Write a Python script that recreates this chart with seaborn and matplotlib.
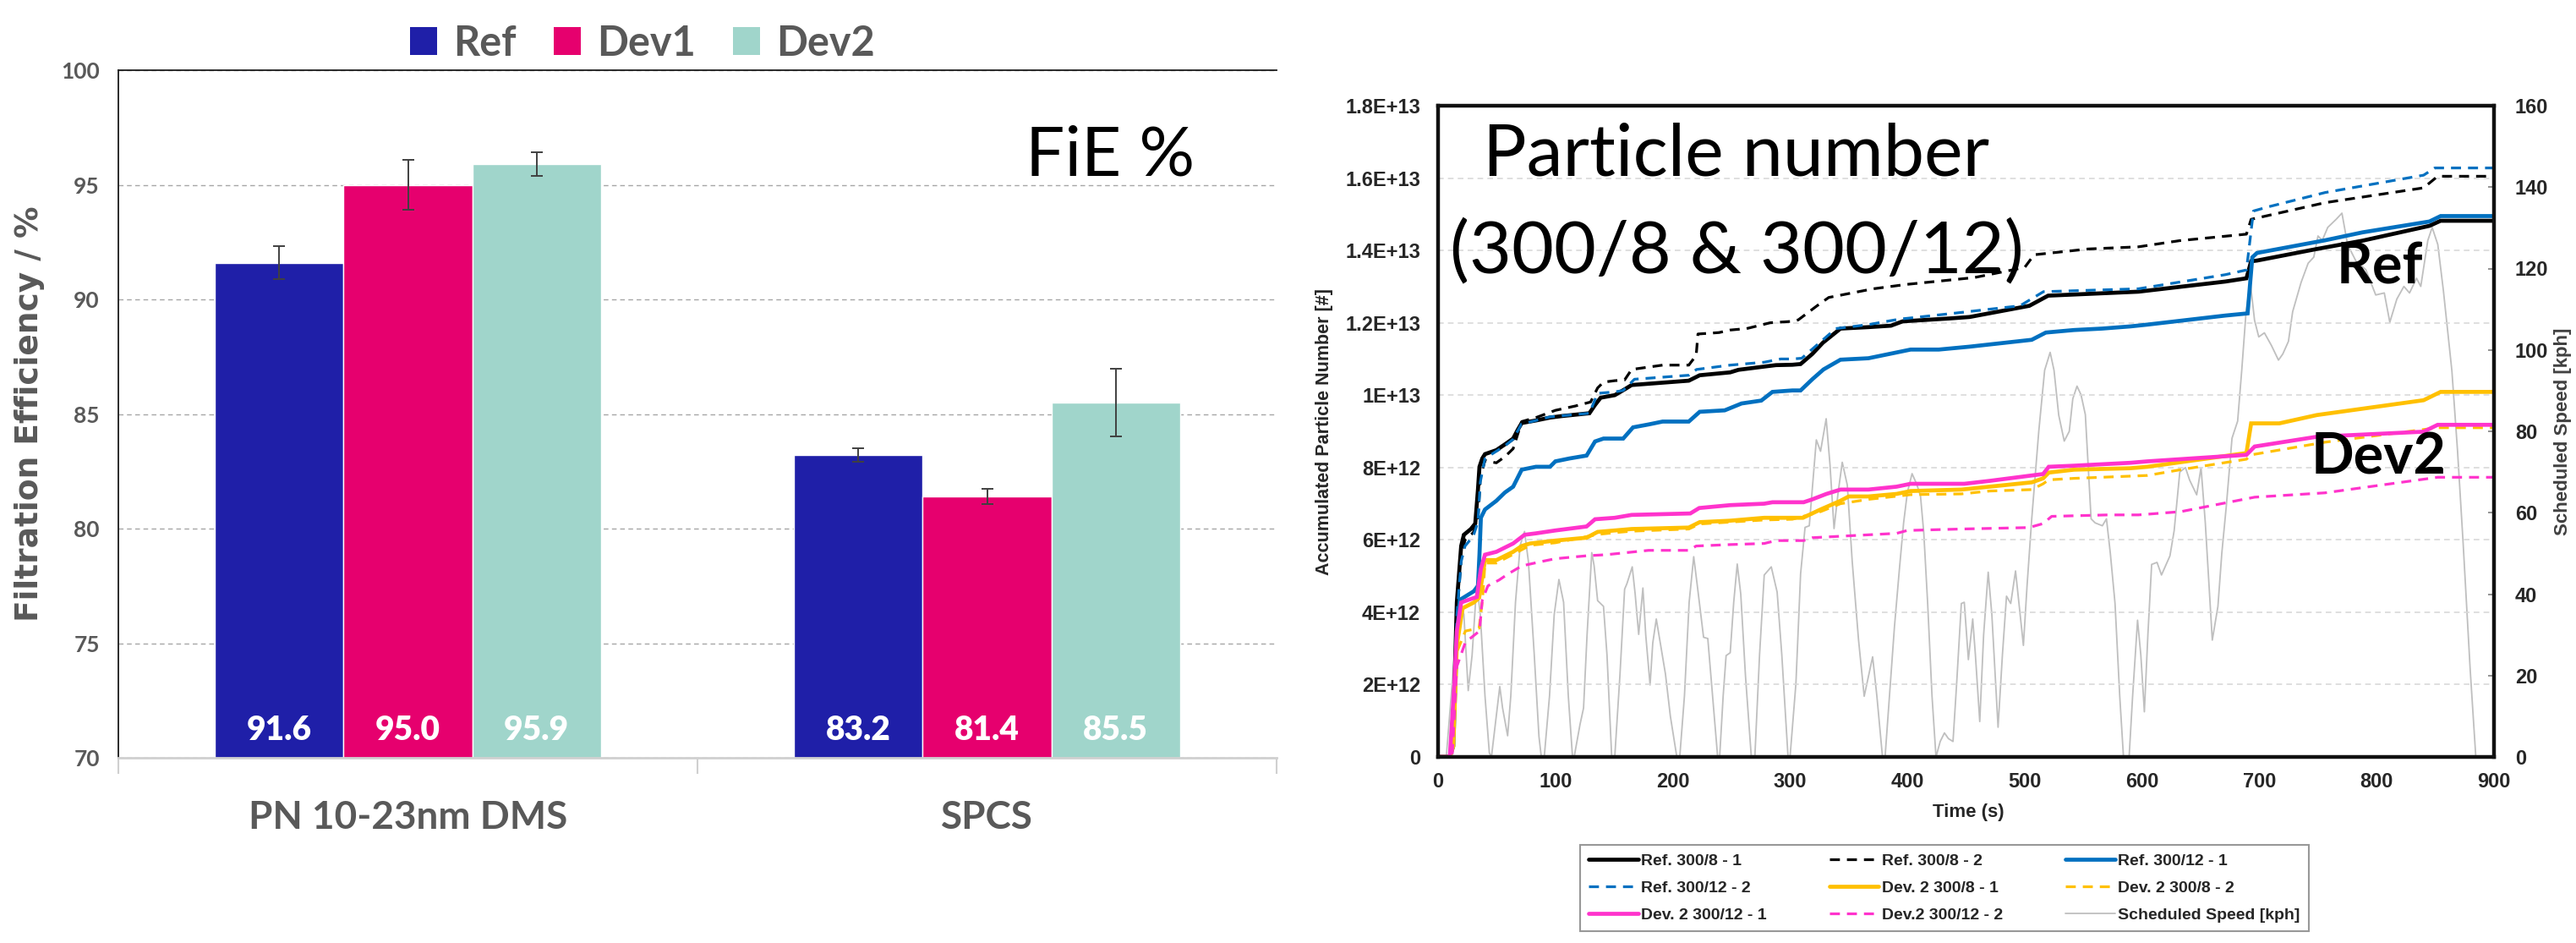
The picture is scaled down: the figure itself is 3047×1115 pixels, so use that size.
import numpy as np
import pandas as pd
import matplotlib
matplotlib.use("Agg")
import matplotlib.pyplot as plt
import seaborn as sns
from matplotlib.patches import Patch
from matplotlib.ticker import FixedLocator

# ---------------- data : left chart ----------------
categories = ["PN 10-23nm DMS", "SPCS"]
series = ["Ref", "Dev1", "Dev2"]
fie_ref = [91.6, 83.2]
fie_dev1 = [95.0, 81.4]
fie_dev2 = [95.9, 85.5]
err_ref = [0.72, 0.29]
err_dev1 = [1.08, 0.32]
err_dev2 = [0.53, 1.48]
fie_yticks = [70, 75, 80, 85, 90, 95, 100]

# ---------------- data : right chart ----------------
t_ref8_1 = [0, 10, 12.5, 16, 19.7, 22, 28, 31.7, 34, 35.3, 37.7, 40, 49.7, 57, 64, 67.7, 71.3, 83.4, 95.4, 105,
            129, 133.8, 138.6, 150.6, 159, 165, 213.7, 223, 249, 256, 278, 288, 302, 309, 319, 328, 343, 366.8,
            386, 396, 436, 453, 504, 520, 597, 671, 689, 693, 698, 749, 788, 845, 854.5, 900]
n_ref8_1 = [0, 0, 0.3, 4.27, 5.83, 6.14, 6.3, 6.45, 7.39, 8.02, 8.25, 8.37, 8.48, 8.64, 8.8, 9.03, 9.23, 9.3, 9.38, 9.42,
            9.5, 9.73, 9.93, 10.0, 10.16, 10.28, 10.4, 10.55, 10.63, 10.7, 10.79, 10.83, 10.84, 10.86, 11.14, 11.45, 11.84, 11.88,
            11.92, 12.04, 12.12, 12.16, 12.47, 12.75, 12.86, 13.14, 13.23, 13.7, 13.72, 14.04, 14.27, 14.68, 14.82, 14.82]

t_ref8_2 = [0, 10, 13, 16, 20, 23, 30, 34, 36, 40, 42.5, 49.7, 57, 64, 67.7, 71.3, 83.4, 100, 117, 130,
            136, 141, 150.6, 159, 165, 191.4, 213.7, 220, 221.5, 239.5, 249, 263, 283, 302, 307, 323, 333, 371,
            399, 457, 500, 508, 554, 597, 632, 689, 693, 756, 840, 852, 900]
n_ref8_2 = [0, 0, 0.3, 3.9, 5.6, 6.0, 6.2, 6.6, 7.7, 8.2, 8.17, 8.13, 8.3, 8.52, 8.9, 9.27, 9.38, 9.58, 9.7, 9.81,
            10.2, 10.36, 10.4, 10.42, 10.71, 10.83, 10.83, 11.1, 11.69, 11.73, 11.8, 11.84, 12.0, 12.04, 12.08, 12.47, 12.7, 12.94,
            13.06, 13.25, 13.53, 13.88, 14.04, 14.1, 14.27, 14.45, 14.86, 15.32, 15.73, 16.05, 16.05]

t_ref12_1 = [0, 10, 13, 16, 18.5, 30.5, 34, 35.3, 36.5, 40, 49.7, 57, 64, 71.3, 83.4, 95.4, 100, 112, 126.6, 133.8,
             141, 157.8, 166.2, 179.4, 191.4, 213.7, 223, 244.3, 258.7, 275.5, 285, 302, 309, 319, 328.5, 343, 366.8,
             390.8, 402.8, 426.8, 453, 506, 518, 542, 566, 590, 604.6, 671, 690, 694, 698, 756, 788, 845, 854.5, 900]
n_ref12_1 = [0, 0, 0.3, 3.3, 4.34, 4.58, 4.73, 5.6, 6.61, 6.84, 7.08, 7.31, 7.47, 7.94, 8.02, 8.02, 8.17, 8.25, 8.33, 8.72,
             8.8, 8.8, 9.11, 9.19, 9.27, 9.27, 9.54, 9.58, 9.77, 9.85, 10.09, 10.13, 10.13, 10.44, 10.71, 10.98, 11.02,
             11.18, 11.26, 11.26, 11.34, 11.53, 11.73, 11.8, 11.84, 11.9, 11.95, 12.2, 12.26, 13.81, 13.93, 14.28, 14.5, 14.8, 14.95, 14.95]

t_ref12_2 = [0, 10, 13, 16, 19.7, 23, 30, 34, 36, 40, 49.7, 57, 64, 71, 83.4, 95.4, 129, 136, 150.6, 157.8,
             167.4, 213.7, 220.3, 249, 278, 292, 302, 310, 339, 366.8, 393, 436, 496, 516, 597, 671, 689, 695,
             707, 756, 840, 849.5, 900]
n_ref12_2 = [0, 0, 0.3, 3.9, 5.4, 5.83, 6.1, 6.5, 7.6, 8.25, 8.45, 8.6, 8.78, 9.2, 9.3, 9.4, 9.5, 10.05, 10.09, 10.13,
             10.44, 10.55, 10.71, 10.83, 10.91, 11.0, 11.0, 11.02, 11.84, 11.95, 12.1, 12.25, 12.47, 12.86, 12.94, 13.33, 13.46, 15.09,
             15.2, 15.6, 16.08, 16.28, 16.28]

t_dev8_1 = [0, 10, 13, 16, 20.9, 30.5, 35, 40, 49.7, 64, 71.3, 78.5, 100, 126.6, 136, 150.6, 165, 213.7, 223, 249,
            278, 302, 311, 326, 343, 350, 366.8, 390.8, 402.8, 446, 470, 506, 515.7, 520.5, 542, 590, 604.6, 689,
            693, 717, 749, 840, 854.5, 900]
n_dev8_1 = [0, 0, 0.3, 3.09, 4.11, 4.27, 4.4, 5.44, 5.44, 5.67, 5.83, 5.9, 5.98, 6.06, 6.22, 6.26, 6.3, 6.34, 6.49, 6.53,
            6.61, 6.61, 6.61, 6.84, 7.08, 7.2, 7.2, 7.27, 7.35, 7.39, 7.47, 7.59, 7.7, 7.86, 7.94, 7.98, 8.02, 8.4,
            9.22, 9.22, 9.45, 9.86, 10.09, 10.09]

t_dev8_2 = [0, 10, 13, 16, 23.3, 35, 38, 40, 49.7, 64, 78.5, 100, 136, 150.6, 165, 213.7, 223, 278, 302, 326,
            343, 366.8, 402.8, 446, 470, 506, 515.7, 520.5, 542, 604.6, 633, 689, 693, 756, 852, 900]
n_dev8_2 = [0, 0, 0.3, 2.9, 3.48, 3.56, 4.4, 5.36, 5.36, 5.6, 5.85, 5.92, 6.15, 6.2, 6.24, 6.3, 6.44, 6.55, 6.57, 6.78,
            7.0, 7.12, 7.25, 7.27, 7.35, 7.39, 7.55, 7.66, 7.7, 7.78, 7.94, 8.23, 8.35, 8.7, 9.1, 9.1]

t_dev12_1 = [0, 10, 13.7, 16, 19.7, 25.7, 33, 36.5, 40, 49.7, 64, 73.7, 83.4, 100, 126.6, 133.8, 150.6, 165, 215, 222.6,
             249, 278, 285, 302, 311.6, 319, 331, 343, 366.8, 390.8, 402.8, 448.5, 470, 506, 515.7, 520.5, 542, 566,
             590, 604.6, 689, 696, 749, 840, 852, 900]
n_dev12_1 = [0, 0, 1.92, 3.48, 4.27, 4.34, 4.42, 5.2, 5.59, 5.67, 5.9, 6.14, 6.18, 6.26, 6.37, 6.57, 6.61, 6.69, 6.73, 6.88,
             6.96, 7.0, 7.04, 7.04, 7.04, 7.12, 7.27, 7.39, 7.39, 7.47, 7.55, 7.55, 7.63, 7.78, 7.82, 8.02, 8.05, 8.09,
             8.13, 8.17, 8.35, 8.58, 8.85, 8.99, 9.18, 9.18]

t_dev12_2 = [0, 12, 16, 23.3, 35.3, 37.7, 42.5, 52, 59.3, 71.3, 88, 100, 126.6, 143.4, 179.4, 213.7, 220, 249, 278, 288,
             302, 311.6, 319, 343, 390.8, 400, 446, 503.7, 515.7, 523, 571, 597, 633, 696, 756, 852, 900]
n_dev12_2 = [0, 0, 2.5, 3.17, 3.48, 4.34, 4.73, 4.89, 5.05, 5.28, 5.4, 5.48, 5.56, 5.59, 5.71, 5.71, 5.83, 5.87, 5.9, 5.98,
             5.98, 5.98, 6.06, 6.1, 6.18, 6.26, 6.3, 6.34, 6.45, 6.65, 6.69, 6.69, 6.78, 7.18, 7.3, 7.73, 7.73]

speed_time = [0, 7, 15.6, 19.2, 22, 25.7, 29, 33, 36, 40, 43.7, 45.5, 52.6, 55, 59.3, 62, 66, 70, 73.7, 77,
              82, 86, 88, 90.5, 95, 99, 103, 107, 111, 114.6, 116, 121, 124, 127, 131, 133, 136, 141, 144, 148,
              150.6, 155, 159, 161, 165.5, 168, 171, 174.6, 177, 180.7, 183, 186, 190, 193.8, 198, 203.5, 206, 210, 214, 217.9,
              221, 226.3, 229.9, 234, 238.3, 240, 243, 245.5, 249, 252, 255, 258, 262, 267, 270, 274, 278, 284, 289, 293,
              298.3, 300, 305, 309, 312.8, 316.4, 319, 322.4, 326, 330.8, 334, 337.5, 341, 344.5, 348.8, 353, 358.4, 363.2, 367, 370.4,
              374, 378.8, 381, 385.9, 389, 393.2, 396.8, 400, 404, 408, 411.2, 414, 417.3, 421, 424.4, 428, 431.6, 435, 438.9, 442,
              446, 448.5, 452, 455.7, 458, 461.7, 465, 468.9, 472, 477.3, 481, 484.5, 488.1, 492.2, 495, 498.9, 502, 506, 512, 517,
              521.7, 525, 529, 533.7, 538, 541, 544.6, 548, 551.7, 554, 556.6, 560.1, 566.2, 569.7, 573, 577, 581, 584.2, 589, 592,
              596.2, 599, 602, 605, 608.2, 612.8, 616.6, 623.8, 627.4, 632.2, 637, 640.6, 646.6, 650.3, 653.9, 659.9, 664.7, 668, 671.9, 676.7,
              681.5, 685, 688.7, 692.3, 695.9, 699.5, 704.3, 710.3, 716.3, 720, 724.8, 728.4, 735.6, 741.6, 746.4, 750, 753.6, 758.3, 765.5, 770.4,
              775.2, 782.4, 790.8, 799.2, 806.5, 811.2, 817.2, 823.2, 828, 834, 837.6, 843.6, 847.3, 852.1, 856.9, 864.1, 868.9, 873.7, 879.7, 884.5,
              900]
speed_kph = [0, 0, 31, 37.5, 35, 16.3, 25, 42.6, 35, 15, 1, 0, 17.3, 12, 5.2, 15, 38, 52, 55.4, 48,
             25, 5, 0, 0, 15, 35, 43.6, 38, 15, 0, 0, 8, 12, 30, 50.2, 47, 38.4, 37, 25, 0,
             0, 20, 41.2, 42.6, 46.7, 40, 30.1, 41.5, 30, 17.7, 28, 33.9, 27, 20.4, 10, 0, 0, 15, 38, 49.2,
             42, 29.4, 29.1, 15, 0, 0, 15, 24.9, 25.6, 38, 47.4, 40, 20, 0, 0, 25, 44.7, 46.7, 40.5, 25,
             0, 0, 18, 45, 56.4, 56.8, 66, 77.9, 75.1, 83.1, 72, 56.1, 65, 72.4, 66.8, 48, 28.7, 14.9, 20, 24.6,
             15, 0, 0, 19.7, 32, 46.1, 57.5, 65, 69.6, 67, 64.1, 55, 37.7, 15, 0, 3.8, 5.9, 4.5, 3.8, 18,
             37.7, 38, 23.9, 33.9, 25, 8.7, 30, 45.4, 35, 7.3, 25, 39.5, 37.7, 45.7, 38, 27.4, 42, 58.5, 80, 95,
             99.4, 95, 84, 77.6, 80, 88, 91.1, 89, 84.1, 72, 58.5, 57.5, 56.8, 58.5, 50, 37.7, 15, 0, 0, 15,
             33.6, 25, 11.1, 30, 47.3, 47.8, 44.7, 49.4, 55.6, 70, 71.1, 68, 64.4, 71.1, 57.7, 28.7, 37, 50, 61.8, 78.3,
             82.5, 95, 109.4, 116.6, 107.3, 103.2, 104.2, 101.1, 97.5, 99, 102.1, 109.4, 116.6, 121.3, 122.8, 128, 126.9, 130.1, 132.1, 133.6,
             125.9, 121.8, 119.7, 113.5, 114, 106.8, 112.5, 115.6, 114, 117.6, 115.6, 126.9, 130.1, 125.9, 114.5, 94.9, 75.3, 52.5, 21.5, 0,
             0]

pn_ticks = [0, 2e12, 4e12, 6e12, 8e12, 1e13, 1.2e13, 1.4e13, 1.6e13, 1.8e13]
pn_tick_labels = ["0", "2E+12", "4E+12", "6E+12", "8E+12", "1E+13", "1.2E+13", "1.4E+13", "1.6E+13", "1.8E+13"]
time_ticks = [0, 100, 200, 300, 400, 500, 600, 700, 800, 900]
speed_ticks = [0, 20, 40, 60, 80, 100, 120, 140, 160]

pn_series = [
    ("Ref. 300/8 - 1", t_ref8_1, n_ref8_1, "#000000", "solid"),
    ("Ref. 300/8 - 2", t_ref8_2, n_ref8_2, "#000000", "dash"),
    ("Ref. 300/12 - 1", t_ref12_1, n_ref12_1, "#0070C0", "solid"),
    ("Ref. 300/12 - 2", t_ref12_2, n_ref12_2, "#0070C0", "dash"),
    ("Dev. 2 300/8 - 1", t_dev8_1, n_dev8_1, "#FFC000", "solid"),
    ("Dev. 2 300/8 - 2", t_dev8_2, n_dev8_2, "#FFC000", "dash"),
    ("Dev. 2 300/12 - 1", t_dev12_1, n_dev12_1, "#FF33CC", "solid"),
    ("Dev.2 300/12 - 2", t_dev12_2, n_dev12_2, "#FF33CC", "dash"),
]

# ---------------- style ----------------
sns.set_theme(style="white")
CAL = ["Lato", "DejaVu Sans"]
ARI = ["Liberation Sans", "DejaVu Sans"]
plt.rcParams["font.family"] = CAL

bar_colors = ["#1F1FA8", "#E6006E", "#A0D5CB"]
GRAY_TXT = "#595959"

fig = plt.figure(figsize=(30.47, 11.15), dpi=100)
fig.patch.set_facecolor("white")

# =============== LEFT: bar chart ===============
ax1 = fig.add_axes([140 / 3047, 1 - 896 / 1115, 1370 / 3047, 813 / 1115])
df = pd.DataFrame({
    "category": categories * 3,
    "series": [s for s in series for _ in categories],
    "value": fie_ref + fie_dev1 + fie_dev2,
})
sns.barplot(data=df, x="category", y="value", hue="series", hue_order=series,
            palette=bar_colors, width=0.667, errorbar=None, saturation=1,
            legend=False, ax=ax1, zorder=2)
ax1.set_ylim(70, 100)
ax1.set_xlim(-0.5, 1.5)

for cont, errs in zip(ax1.containers, [err_ref, err_dev1, err_dev2]):
    for bar, e in zip(cont, errs):
        xc = bar.get_x() + bar.get_width() / 2
        h = bar.get_height()
        ax1.errorbar(xc, h, yerr=e, fmt="none", ecolor="#404040", elinewidth=1.4,
                     capsize=5, capthick=1.4, zorder=3)
        ax1.text(xc, 71.19, f"{h:.1f}", ha="center", va="center", color="white",
                 fontsize=28, fontweight="heavy", family=CAL, zorder=4)

ax1.set_yticks(fie_yticks)
ax1.yaxis.grid(True, linestyle=(0, (4, 3)), color="#a6a6a6", linewidth=1.0)
ax1.set_axisbelow(True)
ax1.tick_params(axis="y", length=0, pad=16, labelsize=19, labelcolor=GRAY_TXT)
for lab in ax1.get_yticklabels():
    lab.set_fontweight("bold")
ax1.tick_params(axis="x", which="major", length=0, pad=36, labelsize=33, labelcolor=GRAY_TXT)
for lab in ax1.get_xticklabels():
    lab.set_fontweight("bold")
ax1.xaxis.set_minor_locator(FixedLocator([-0.5, 0.5, 1.5]))
ax1.tick_params(axis="x", which="minor", bottom=True, length=14, width=1.5, color="#d0d0d0")
ax1.set_xlabel("")
ax1.set_ylabel("Filtration Efficiency / %", fontsize=27, fontweight="bold",
               color=GRAY_TXT, family=["DejaVu Sans"])
ax1.yaxis.set_label_coords(-0.0635, 0.5)
for s in ["left", "top"]:
    ax1.spines[s].set_color("#1a1a1a")
    ax1.spines[s].set_linewidth(1.3)
ax1.spines["right"].set_visible(False)
ax1.spines["bottom"].set_color("#d0d0d0")
ax1.spines["bottom"].set_linewidth(2)

ax1.text(1.212, 95.39, "FiE %", fontsize=59, ha="center", va="baseline", color="black", family=CAL)

leg_handles = [Patch(facecolor=c, edgecolor="none", label=s) for s, c in zip(series, bar_colors)]
fig.legend(handles=leg_handles, loc="center", bbox_to_anchor=(760 / 3047, 1 - 51 / 1115),
           ncol=3, frameon=False, handlelength=0.66, handleheight=0.66,
           handletextpad=0.4, columnspacing=0.9, labelcolor=GRAY_TXT,
           prop={"family": CAL, "weight": "bold", "size": 35})

# =============== RIGHT: line chart ===============
ax2 = fig.add_axes([1701 / 3047, 1 - 895 / 1115, 1249 / 3047, 770 / 1115])
ax3 = ax2.twinx()
ax2.set_zorder(3)
ax3.set_zorder(2)
ax2.patch.set_visible(False)

sns.lineplot(x=speed_time, y=speed_kph, ax=ax3, color="#BFBFBF", linewidth=1.3,
             estimator=None, sort=False, legend=False, label="Scheduled Speed [kph]")

for name, tt, nn, col, sty in pn_series:
    yy = np.array(nn) * 1e12
    if sty == "solid":
        sns.lineplot(x=tt, y=yy, ax=ax2, color=col, linewidth=3.4, estimator=None,
                     sort=False, legend=False, label=name, solid_joinstyle="miter")
    else:
        sns.lineplot(x=tt, y=yy, ax=ax2, color=col, linewidth=2.3, estimator=None,
                     sort=False, legend=False, label=name, linestyle=(0, (3.7, 2.6)))

ax2.set_xlim(0, 900)
ax2.set_ylim(0, 1.8e13)
ax3.set_ylim(0, 160)
ax2.yaxis.set_major_locator(FixedLocator(pn_ticks))
ax2.set_yticklabels(pn_tick_labels)
ax2.set_xticks(time_ticks)
ax3.set_yticks(speed_ticks)
ax2.yaxis.grid(True, linestyle=(0, (4, 3)), color="#d9d9d9", linewidth=1.2)
ax2.xaxis.grid(False)

ax2.tick_params(axis="y", length=0, pad=15, labelsize=17)
ax2.tick_params(axis="x", length=0, pad=13, labelsize=17)
ax3.tick_params(axis="y", right=True, length=5, direction="in", color="#808080",
                width=1.2, pad=18, labelsize=17)
for lab in ax2.get_yticklabels() + ax2.get_xticklabels() + ax3.get_yticklabels():
    lab.set_fontweight("bold")
    lab.set_family(ARI)

for s in ax2.spines.values():
    s.set_color("#111111")
    s.set_linewidth(3.2)
for s in ax3.spines.values():
    s.set_visible(False)

ax2.set_ylabel("Accumulated Particle Number [#]", fontsize=15.5, fontweight="bold", family=ARI)
ax2.yaxis.set_label_coords(-0.0993, 0.5)
ax3.set_ylabel("Scheduled Speed [kph]", fontsize=16, fontweight="bold", family=ARI, color="#404040")
ax3.yaxis.set_label_coords(1.0568, 0.5)
ax2.set_xlabel("Time (s)", fontsize=16, fontweight="bold", family=ARI)
ax2.xaxis.set_label_coords(0.502, -0.071)

ax2.text(0.2826, 0.8935, "Particle number", transform=ax2.transAxes, fontsize=62,
         ha="center", va="baseline", family=CAL, color="black")
ax2.text(0.2826, 0.744, "(300/8 & 300/12)", transform=ax2.transAxes, fontsize=62,
         ha="center", va="baseline", family=CAL, color="black")
ax2.text(0.892, 0.726, "Ref", transform=ax2.transAxes, fontsize=48, fontweight="bold",
         ha="center", va="baseline", family=CAL, color="black")
ax2.text(0.891, 0.435, "Dev2", transform=ax2.transAxes, fontsize=48, fontweight="bold",
         ha="center", va="baseline", family=CAL, color="black")

# legend under the right chart (3 columns, row-major as in reference)
h2, l2 = ax2.get_legend_handles_labels()
h3, l3 = ax3.get_legend_handles_labels()
hand = h2 + h3
labs = l2 + l3
order = [0, 3, 6, 1, 4, 7, 2, 5, 8]
leg = fig.legend([hand[i] for i in order], [labs[i] for i in order], loc="center",
                 bbox_to_anchor=(2300 / 3047, 1 - 1050 / 1115), ncol=3, frameon=True,
                 fancybox=False, edgecolor="#7f7f7f", handlelength=3.0, handletextpad=0.2,
                 columnspacing=3.8, labelspacing=0.75, borderpad=0.5,
                 prop={"family": ARI, "weight": "bold", "size": 14})
leg.get_frame().set_linewidth(1.5)

fig.savefig("out.png", dpi=100, facecolor="white")
